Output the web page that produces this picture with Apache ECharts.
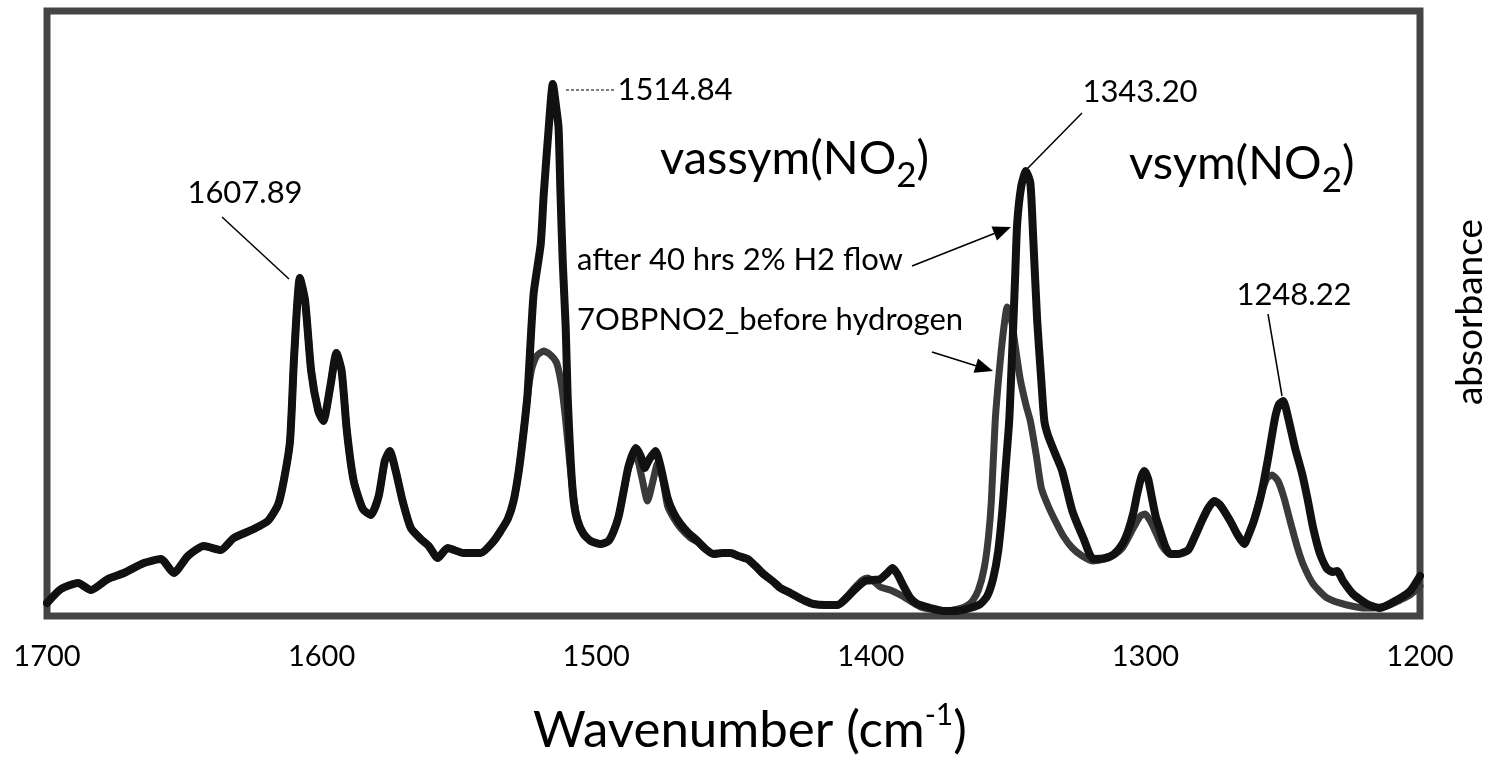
<!DOCTYPE html>
<html>
<head>
<meta charset="utf-8">
<script src="https://cdn.jsdelivr.net/npm/echarts@6/dist/echarts.min.js"></script>
<style>
  html, body { margin: 0; padding: 0; background: #fff; }
  #main { width: 1496px; height: 760px; }
</style>
</head>
<body>
<div id="main"></div>
<script>
// FTIR spectra, wavenumber (cm-1) vs absorbance
var afterH2 = [
  [1700.0, 0.013], [1694.9, 0.027], [1688.7, 0.033], [1684.0, 0.026], [1677.8, 0.037], [1672.0, 0.043],
  [1664.7, 0.053], [1658.5, 0.057], [1653.8, 0.043], [1648.7, 0.060], [1642.9, 0.070], [1636.7, 0.066],
  [1632.0, 0.078], [1624.7, 0.087], [1619.6, 0.095], [1615.9, 0.111], [1613.8, 0.135], [1611.5, 0.175],
  [1610.0, 0.260], [1607.9, 0.338], [1606.0, 0.315], [1603.8, 0.245], [1601.2, 0.205], [1599.4, 0.195],
  [1596.8, 0.230], [1594.6, 0.263], [1592.7, 0.245], [1590.8, 0.185], [1588.3, 0.135], [1585.0, 0.107],
  [1582.1, 0.101], [1579.2, 0.120], [1577.0, 0.155], [1575.2, 0.165], [1573.0, 0.145], [1570.5, 0.115],
  [1567.5, 0.088], [1563.9, 0.077], [1561.0, 0.070], [1557.7, 0.058], [1554.1, 0.068], [1548.3, 0.063],
  [1542.1, 0.063], [1537.3, 0.075], [1534.8, 0.085], [1532.2, 0.097], [1530.1, 0.115], [1528.2, 0.145],
  [1526.4, 0.185], [1525.0, 0.222], [1522.8, 0.322], [1520.2, 0.372], [1519.1, 0.422], [1517.3, 0.488],
  [1515.8, 0.532], [1514.4, 0.505], [1513.7, 0.488], [1513.0, 0.422], [1512.2, 0.355], [1511.1, 0.288],
  [1510.4, 0.220], [1509.3, 0.155], [1508.2, 0.115], [1506.8, 0.095], [1504.6, 0.082], [1502.0, 0.075],
  [1498.4, 0.072], [1495.5, 0.075], [1493.6, 0.085], [1491.8, 0.100], [1490.0, 0.125], [1488.2, 0.150],
  [1485.6, 0.168], [1483.8, 0.160], [1482.4, 0.148], [1480.6, 0.157], [1478.4, 0.165], [1476.6, 0.150],
  [1474.0, 0.118], [1471.8, 0.103], [1469.3, 0.092], [1466.4, 0.083], [1463.1, 0.075], [1460.2, 0.067],
  [1457.3, 0.062], [1454.0, 0.063], [1451.1, 0.063], [1448.2, 0.060], [1444.9, 0.057], [1442.0, 0.050],
  [1439.1, 0.042], [1435.8, 0.035], [1432.9, 0.028], [1429.3, 0.023], [1426.7, 0.019], [1423.8, 0.015],
  [1420.9, 0.012], [1416.5, 0.011], [1412.2, 0.011], [1409.2, 0.017], [1405.6, 0.027], [1402.0, 0.035],
  [1399.1, 0.036], [1396.5, 0.037], [1394.0, 0.043], [1392.1, 0.048], [1390.3, 0.042], [1388.1, 0.030],
  [1385.6, 0.018], [1383.0, 0.012], [1378.3, 0.008], [1373.6, 0.005], [1369.2, 0.005], [1363.8, 0.008],
  [1360.1, 0.012], [1357.6, 0.020], [1355.4, 0.038], [1353.6, 0.065], [1352.1, 0.105], [1351.0, 0.145],
  [1349.6, 0.195], [1348.8, 0.245], [1348.1, 0.292], [1347.4, 0.342], [1346.7, 0.392], [1345.2, 0.430],
  [1343.5, 0.445], [1341.9, 0.433], [1340.8, 0.375], [1339.4, 0.295], [1337.9, 0.235], [1336.8, 0.195],
  [1335.4, 0.180], [1332.8, 0.162], [1330.3, 0.145], [1326.6, 0.105], [1322.6, 0.078], [1319.0, 0.057],
  [1314.6, 0.058], [1311.4, 0.062], [1308.4, 0.072], [1306.3, 0.085], [1304.4, 0.103], [1303.0, 0.122],
  [1301.5, 0.139], [1300.4, 0.145], [1299.0, 0.137], [1297.9, 0.122], [1296.3, 0.100], [1294.6, 0.085],
  [1292.8, 0.070], [1291.0, 0.062], [1288.1, 0.062], [1284.4, 0.066], [1281.9, 0.080], [1279.3, 0.096],
  [1277.1, 0.108], [1274.9, 0.115], [1272.8, 0.111], [1269.1, 0.095], [1266.6, 0.082], [1264.0, 0.072],
  [1262.6, 0.080], [1260.4, 0.096], [1257.8, 0.122], [1255.3, 0.158], [1252.8, 0.198], [1251.3, 0.212],
  [1249.8, 0.215], [1248.0, 0.198], [1245.5, 0.168], [1242.9, 0.142], [1240.8, 0.115], [1238.9, 0.088],
  [1236.4, 0.062], [1233.8, 0.047], [1231.7, 0.044], [1230.2, 0.045], [1228.0, 0.035], [1224.4, 0.022],
  [1219.3, 0.012], [1214.6, 0.008], [1208.4, 0.016], [1203.6, 0.025], [1200.0, 0.040]
];

var beforeH2 = [
  [1700.0, 0.013], [1694.9, 0.027], [1688.7, 0.033], [1684.0, 0.026], [1677.8, 0.037], [1672.0, 0.043],
  [1664.7, 0.053], [1658.5, 0.057], [1653.8, 0.043], [1648.7, 0.060], [1642.9, 0.070], [1636.7, 0.066],
  [1632.0, 0.078], [1624.7, 0.087], [1619.6, 0.095], [1615.9, 0.111], [1613.8, 0.135], [1611.5, 0.175],
  [1610.0, 0.260], [1607.9, 0.338], [1606.0, 0.315], [1603.8, 0.245], [1601.2, 0.205], [1599.4, 0.195],
  [1596.8, 0.230], [1594.6, 0.263], [1592.7, 0.245], [1590.8, 0.185], [1588.3, 0.135], [1585.0, 0.107],
  [1582.1, 0.101], [1579.2, 0.120], [1577.0, 0.155], [1575.2, 0.165], [1573.0, 0.145], [1570.5, 0.115],
  [1567.5, 0.088], [1563.9, 0.077], [1561.0, 0.070], [1557.7, 0.058], [1554.1, 0.068], [1548.3, 0.063],
  [1542.1, 0.063], [1537.3, 0.075], [1534.8, 0.085], [1532.2, 0.097], [1530.1, 0.115], [1528.2, 0.145],
  [1526.4, 0.185], [1525.0, 0.220], [1523.5, 0.247], [1521.7, 0.260], [1519.1, 0.265], [1516.6, 0.261],
  [1514.4, 0.253], [1512.6, 0.230], [1511.1, 0.195], [1509.7, 0.155], [1508.2, 0.118], [1506.8, 0.097],
  [1504.6, 0.082], [1502.0, 0.075], [1498.4, 0.072], [1495.5, 0.075], [1493.6, 0.085], [1491.8, 0.100],
  [1490.0, 0.125], [1488.2, 0.148], [1485.7, 0.163], [1483.5, 0.140], [1481.3, 0.115], [1479.5, 0.133],
  [1477.6, 0.153], [1475.8, 0.137], [1474.0, 0.110], [1471.8, 0.098], [1469.3, 0.088], [1465.6, 0.078],
  [1463.1, 0.074], [1460.2, 0.067], [1457.3, 0.062], [1454.0, 0.063], [1451.1, 0.063], [1448.2, 0.060],
  [1444.9, 0.057], [1442.0, 0.050], [1439.1, 0.042], [1435.8, 0.035], [1432.9, 0.028], [1429.3, 0.023],
  [1426.7, 0.019], [1423.8, 0.015], [1420.9, 0.012], [1416.5, 0.011], [1412.2, 0.011], [1409.2, 0.018],
  [1405.6, 0.029], [1403.1, 0.036], [1401.2, 0.038], [1399.1, 0.035], [1396.5, 0.029], [1392.9, 0.026],
  [1389.2, 0.021], [1385.6, 0.015], [1381.9, 0.009], [1376.5, 0.006], [1372.8, 0.005], [1368.1, 0.007],
  [1365.2, 0.010], [1363.0, 0.015], [1360.8, 0.026], [1358.7, 0.048], [1357.2, 0.078], [1356.1, 0.115],
  [1354.7, 0.195], [1353.2, 0.245], [1351.7, 0.285], [1350.3, 0.309], [1348.8, 0.297], [1347.4, 0.270],
  [1345.6, 0.237], [1343.4, 0.210], [1341.9, 0.195], [1339.7, 0.160], [1337.9, 0.128], [1335.4, 0.110],
  [1332.8, 0.095], [1329.9, 0.080], [1326.6, 0.068], [1323.0, 0.060], [1319.0, 0.055], [1314.6, 0.057],
  [1311.4, 0.061], [1308.4, 0.068], [1306.3, 0.078], [1304.0, 0.090], [1301.8, 0.100], [1300.1, 0.102],
  [1298.2, 0.095], [1296.1, 0.083], [1293.9, 0.070], [1291.0, 0.062], [1288.1, 0.062], [1284.4, 0.066],
  [1281.9, 0.080], [1279.3, 0.096], [1277.1, 0.108], [1274.9, 0.115], [1272.8, 0.111], [1269.1, 0.095],
  [1266.6, 0.082], [1264.0, 0.072], [1262.6, 0.080], [1260.4, 0.096], [1257.8, 0.122], [1255.7, 0.138],
  [1253.9, 0.141], [1251.7, 0.135], [1249.5, 0.118], [1247.3, 0.095], [1244.8, 0.070], [1242.6, 0.052],
  [1238.9, 0.032], [1233.8, 0.018], [1226.6, 0.011], [1219.3, 0.008], [1212.0, 0.010], [1207.2, 0.016],
  [1203.6, 0.021], [1200.0, 0.030]
];

var peakLabels = ['1607.89', '1514.84', '1343.20', '1248.22'];
var seriesNames = ['after 40 hrs 2% H2 flow', '7OBPNO2_before hydrogen'];

var FONT = 'Lato, "Noto Sans", sans-serif';

// straight leader with a filled arrow head at (x2, y2)
function arrow(x1, y1, x2, y2) {
  var dx = x2 - x1, dy = y2 - y1;
  var len = Math.sqrt(dx * dx + dy * dy);
  var ux = dx / len, uy = dy / len;
  var hl = 18, hw = 7.5;
  var bx = x2 - ux * hl, by = y2 - uy * hl;
  return [
    { type: 'line', shape: { x1: x1, y1: y1, x2: bx, y2: by }, style: { stroke: '#000', lineWidth: 1.6 } },
    {
      type: 'polygon',
      shape: { points: [[x2, y2], [bx - uy * hw, by + ux * hw], [bx + uy * hw, by - ux * hw]] },
      style: { fill: '#000' }
    }
  ];
}

function label(text, x, y, size, align) {
  return {
    type: 'text',
    style: {
      text: text, x: x, y: y, fill: '#000',
      font: size + 'px ' + FONT,
      align: align || 'center', verticalAlign: 'middle'
    }
  };
}

function leader(x1, y1, x2, y2, dash) {
  return {
    type: 'line',
    shape: { x1: x1, y1: y1, x2: x2, y2: y2 },
    style: { stroke: '#000', lineWidth: dash ? 1.2 : 1.5, lineDash: dash ? [3, 2] : null }
  };
}

// "xxx(NO2)" with the 2 dropped as a subscript
function nitro(prefix, x, y) {
  return {
    type: 'text',
    style: {
      x: x, y: y, align: 'left', verticalAlign: 'middle',
      text: '{m|' + prefix + '(NO}{s|2}{m|)}',
      rich: {
        m: { fontSize: 47, fontFamily: FONT, lineHeight: 68, fill: '#000' },
        s: { fontSize: 35, fontFamily: FONT, lineHeight: 35, verticalAlign: 'bottom', fill: '#000' }
      }
    }
  };
}

var chart = echarts.init(document.getElementById('main'), null, { renderer: 'canvas' });

var graphics = [
  label(peakLabels[0], 245, 193, 31),
  leader(222, 217, 289, 279),
  label(peakLabels[1], 675, 90, 31),
  leader(566, 90, 615, 90, true),
  label(peakLabels[2], 1140, 92, 31),
  leader(1082, 113, 1028, 168),
  label(peakLabels[3], 1294, 295, 31),
  leader(1268, 314, 1282, 396),
  nitro('vassym', 660, 159),
  nitro('vsym', 1129, 164),
  label(seriesNames[0], 577, 260, 31, 'left'),
  label(seriesNames[1], 577, 320, 31, 'left'),
  {
    type: 'text',
    x: 1470, y: 312, rotation: Math.PI / 2,
    style: {
      text: 'absorbance', x: 0, y: 0, fill: '#000',
      font: '37px ' + FONT, align: 'center', verticalAlign: 'middle'
    }
  },
  {
    type: 'text',
    style: {
      x: 750, y: 731, align: 'center', verticalAlign: 'middle',
      text: '{t|Wavenumber (cm}{s|-1}{t|)}',
      rich: {
        t: { fontSize: 51, fontFamily: FONT, lineHeight: 62, fill: '#000' },
        s: { fontSize: 30, fontFamily: FONT, lineHeight: 30, verticalAlign: 'top', fill: '#000' }
      }
    }
  }
].concat(arrow(912, 266, 1011, 227)).concat(arrow(932, 352, 993, 371));

var option = {
  animation: false,
  backgroundColor: '#fff',
  grid: {
    left: 47, right: 76, top: 11, bottom: 144,
    show: true, borderColor: '#444', borderWidth: 7
  },
  xAxis: {
    type: 'value',
    inverse: true,
    min: 1200, max: 1700, interval: 100,
    axisLine: { show: false },
    axisTick: { show: false },
    splitLine: { show: false },
    axisLabel: {
      color: '#000', fontSize: 29, fontFamily: FONT, margin: 26,
      formatter: function (v) { return String(v); }
    }
  },
  yAxis: {
    type: 'value',
    min: 0, max: 0.605,
    show: false
  },
  series: [
    {
      name: seriesNames[1],
      type: 'line',
      data: beforeH2,
      showSymbol: false,
      smooth: 0.2,
      lineStyle: { color: '#3a3a3a', width: 7, join: 'round', cap: 'round' },
      z: 2
    },
    {
      name: seriesNames[0],
      type: 'line',
      data: afterH2,
      showSymbol: false,
      smooth: 0.2,
      lineStyle: { color: '#111', width: 8, join: 'round', cap: 'round' },
      z: 3
    }
  ],
  graphic: graphics
};

chart.setOption(option);
</script>
</body>
</html>
